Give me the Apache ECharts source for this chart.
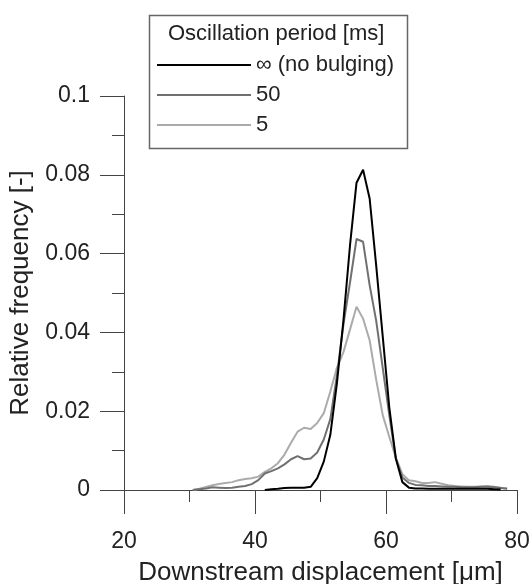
<!DOCTYPE html>
<html>
<head>
<meta charset="utf-8">
<script src="https://cdn.jsdelivr.net/npm/echarts@6/dist/echarts.min.js"></script>
<style>html,body{margin:0;padding:0;background:#fff;}#c{width:531px;height:584px;}</style>
</head>
<body>
<div id="c"></div>
<script>
// Downstream displacement [µm] for each sample (bins of 1 µm)
const xInf = [41.5,42.5,43.5,44.5,45.5,46.5,47.5,48.5,49.5,50.5,51.5,52.5,53.5,54.5,55.5,56.5,57.5,58.5,59.5,60.5,61.5,62.5,63.5,64.5,65.5,66.5,67.5,68.5,69.5,70.5,71.5,72.5,73.5,74.5,75.5,76.5,77.5];
const yInf = [0,0.0002,0.0003,0.0005,0.0006,0.0006,0.0006,0.0008,0.003,0.0072,0.014,0.027,0.043,0.062,0.078,0.0813,0.074,0.057,0.039,0.021,0.008,0.002,0.0006,0.0004,0.0004,0.0003,0.0003,0.0003,0.0003,0.0003,0.0003,0.0003,0.0003,0.0003,0.0003,0.0002,0.0001];

const x50 = [30.5,31.5,32.5,33.5,34.5,35.5,36.5,37.5,38.5,39.5,40.5,41.5,42.5,43.5,44.5,45.5,46.5,47.5,48.5,49.5,50.5,51.5,52.5,53.5,54.5,55.5,56.5,57.5,58.5,59.5,60.5,61.5,62.5,63.5,64.5,65.5,66.5,67.5,68.5,69.5,70.5,71.5,72.5,73.5,74.5,75.5,76.5,77.5,78.5];
const y50 = [0,0.0002,0.0004,0.0007,0.0006,0.0005,0.0006,0.0008,0.001,0.0015,0.0025,0.0042,0.0048,0.0055,0.0065,0.0078,0.0086,0.0078,0.008,0.0095,0.0128,0.018,0.029,0.042,0.0526,0.0637,0.063,0.052,0.043,0.031,0.019,0.008,0.0032,0.0018,0.0013,0.0012,0.001,0.001,0.0009,0.0008,0.0008,0.0007,0.0007,0.0007,0.0008,0.0008,0.0007,0.0005,0.0003];

const x5 = [30.5,31.5,32.5,33.5,34.5,35.5,36.5,37.5,38.5,39.5,40.5,41.5,42.5,43.5,44.5,45.5,46.5,47.5,48.5,49.5,50.5,51.5,52.5,53.5,54.5,55.5,56.5,57.5,58.5,59.5,60.5,61.5,62.5,63.5,64.5,65.5,66.5,67.5,68.5,69.5,70.5,71.5,72.5,73.5,74.5,75.5,76.5,77.5,78.5];
const y5 = [0,0.0003,0.0008,0.0012,0.0015,0.0018,0.002,0.0025,0.0028,0.003,0.0034,0.0046,0.0055,0.0068,0.009,0.012,0.0148,0.0158,0.0155,0.017,0.0195,0.025,0.031,0.035,0.0407,0.0465,0.0435,0.038,0.028,0.019,0.0135,0.0082,0.004,0.0025,0.0022,0.0018,0.0018,0.002,0.0016,0.0012,0.001,0.0009,0.0008,0.0008,0.0009,0.001,0.0008,0.0006,0.0004];

const seriesNames = ['\u221E (no bulging)', '50', '5'];
const legendTitle = 'Oscillation period [ms]';
const xTitle = 'Downstream displacement [\u03BCm]';
const yTitle = 'Relative frequency [-]';

function pairs(xs, ys) { return xs.map((x, i) => [x, ys[i]]); }

const FONT = 'Liberation Sans, Arial, sans-serif';
const chart = echarts.init(document.getElementById('c'), null, {renderer: 'canvas'});
chart.setOption({
  animation: false,
  backgroundColor: '#fff',
  textStyle: {fontFamily: FONT},
  title: {
    text: legendTitle, left: 168, top: 23, padding: 0,
    textStyle: {fontSize: 22, fontWeight: 'normal', color: '#222', fontFamily: FONT}
  },
  graphic: [{
    type: 'rect', left: 147, top: 13, z: -1,
    shape: {width: 258, height: 133},
    style: {fill: 'none', stroke: '#666', lineWidth: 1.5}
  }],
  legend: {
    orient: 'vertical', left: 156, top: 54, padding: 0,
    itemWidth: 94, itemHeight: 22, itemGap: 8,
    itemStyle: {opacity: 0},
    textStyle: {fontSize: 22, color: '#222', lineHeight: 22, fontFamily: FONT},
    data: seriesNames
  },
  grid: {left: 124, right: 14, top: 96, bottom: 94, containLabel: false, outerBoundsMode: 'none'},
  xAxis: {
    type: 'value', min: 20, max: 80, interval: 20,
    name: xTitle, nameLocation: 'middle', nameGap: 70,
    nameTextStyle: {fontSize: 26, color: '#222', fontFamily: FONT},
    axisLine: {show: true, onZero: false, lineStyle: {color: '#444', width: 1}},
    axisTick: {show: true, inside: false, length: 24, lineStyle: {color: '#444', width: 1}},
    minorTick: {show: true, splitNumber: 2, length: 12, lineStyle: {color: '#444', width: 1}},
    axisLabel: {margin: 40, fontSize: 23, color: '#222', fontFamily: FONT},
    splitLine: {show: false}
  },
  yAxis: {
    type: 'value', min: 0, max: 0.1, interval: 0.02,
    name: yTitle, nameLocation: 'middle', nameGap: 90,
    nameTextStyle: {fontSize: 26, color: '#222', fontFamily: FONT},
    axisLine: {show: true, lineStyle: {color: '#444', width: 1}},
    axisTick: {show: true, inside: false, length: 24, lineStyle: {color: '#444', width: 1}},
    minorTick: {show: true, splitNumber: 2, length: 12, lineStyle: {color: '#444', width: 1}},
    axisLabel: {margin: 34, fontSize: 23, color: '#222', fontFamily: FONT,
      formatter: v => String(+v.toFixed(2))},
    splitLine: {show: false}
  },
  series: [
    {name: seriesNames[2], type: 'line', data: pairs(x5, y5), symbol: 'none', showSymbol: false,
     lineStyle: {color: '#ababab', width: 2}, itemStyle: {color: '#ababab'}, z: 2},
    {name: seriesNames[1], type: 'line', data: pairs(x50, y50), symbol: 'none', showSymbol: false,
     lineStyle: {color: '#707070', width: 2}, itemStyle: {color: '#707070'}, z: 3},
    {name: seriesNames[0], type: 'line', data: pairs(xInf, yInf), symbol: 'none', showSymbol: false,
     lineStyle: {color: '#000000', width: 2}, itemStyle: {color: '#000000'}, z: 4}
  ]
});
</script>
</body>
</html>
